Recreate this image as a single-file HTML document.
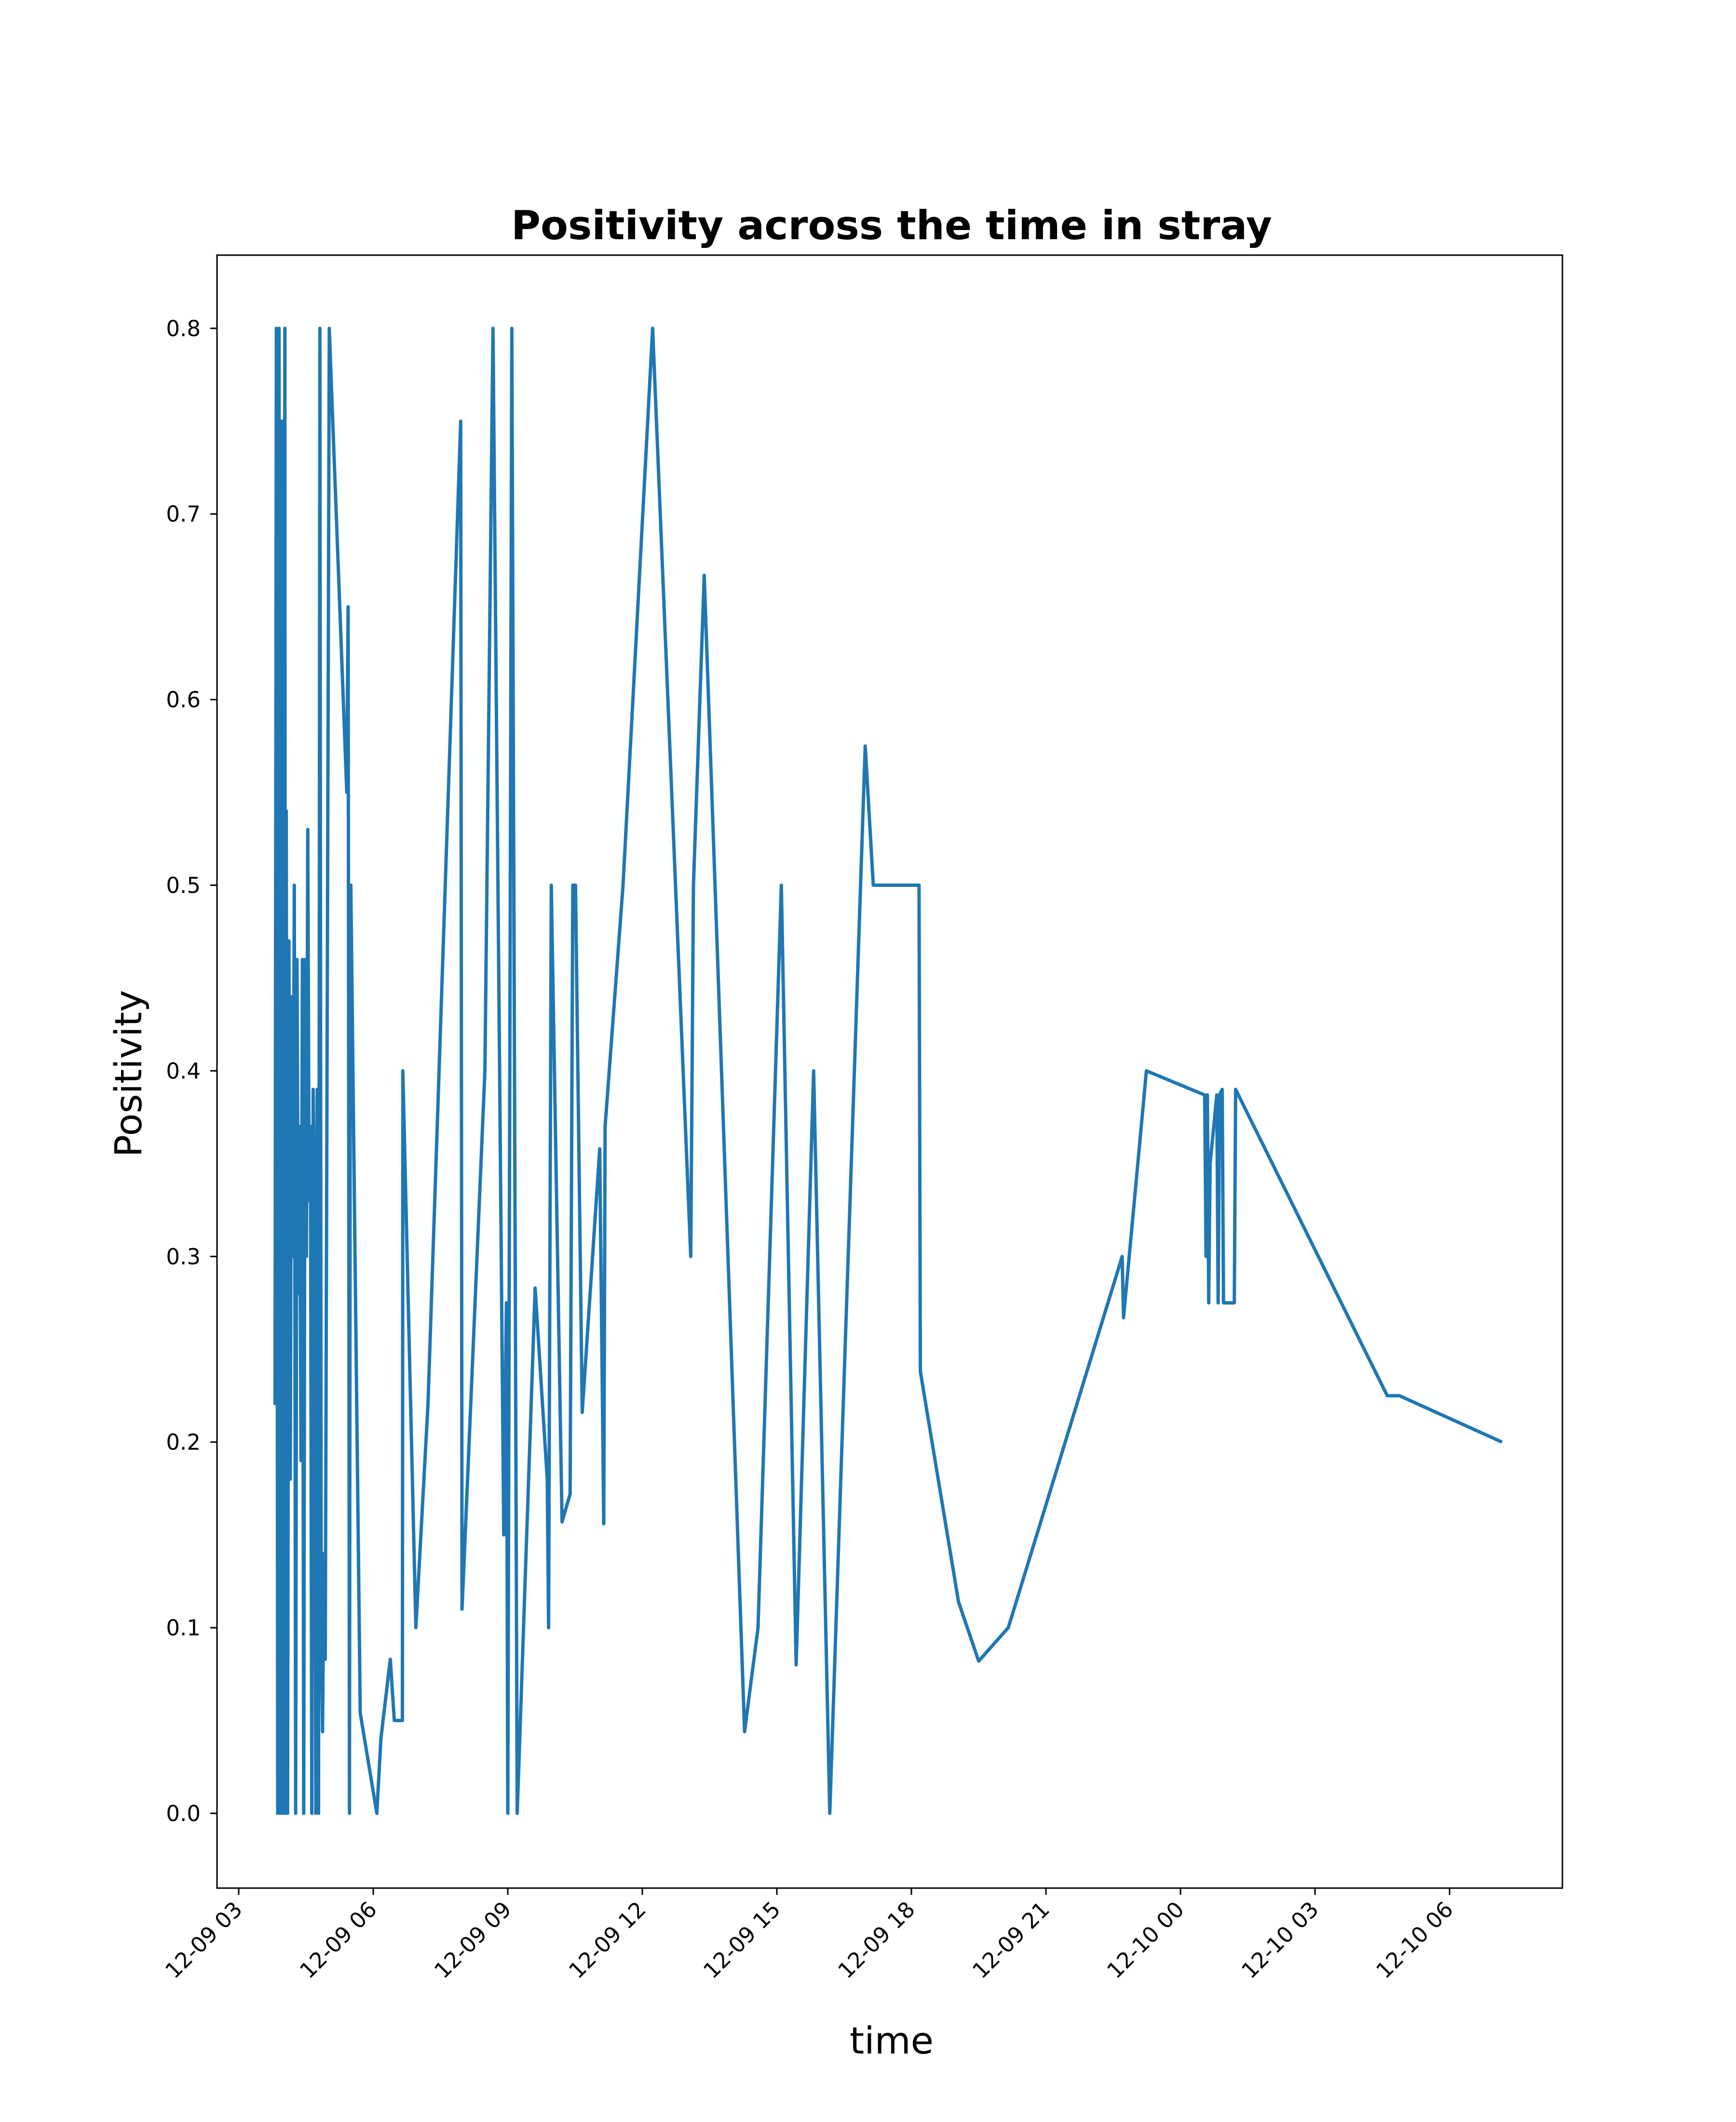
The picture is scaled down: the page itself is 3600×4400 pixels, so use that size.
<!DOCTYPE html>
<html><head><meta charset="utf-8"><style>body{margin:0;background:#fff}svg{display:block}</style></head>
<body>
<svg id="chart" width="3600" height="4400" xmlns="http://www.w3.org/2000/svg" font-family="'DejaVu Sans','Liberation Sans',sans-serif">
<rect width="3600" height="4400" fill="#fff"/>
<text x="1849" y="496" font-size="83" font-weight="bold" text-anchor="middle">Positivity across the time in stray</text>
<g id="plot"></g>
<rect x="450" y="529" width="2790" height="3386" fill="none" stroke="#000" stroke-width="3"/>
<text x="1849" y="4258" font-size="77" text-anchor="middle">time</text>
<text x="0" y="0" font-size="77" text-anchor="middle" transform="translate(293,2226) rotate(-90)">Positivity</text>
</svg>
<script>
const hours=[3.81,3.84,3.87,3.90,3.93,3.96,3.99,4.03,4.04,4.06,4.09,4.12,4.15,4.18,4.21,4.24,4.27,4.30,4.33,4.36,4.39,4.42,4.45,4.48,4.51,4.54,4.57,4.60,4.63,4.66,4.69,4.72,4.75,4.78,4.81,4.84,4.87,4.90,4.93,5.02,5.05,5.41,5.44,5.47,5.49,5.50,5.71,6.08,6.17,6.38,6.47,6.65,6.66,6.95,7.22,7.95,7.98,8.49,8.67,8.91,8.97,9.00,9.09,9.21,9.61,9.88,9.91,9.97,10.21,10.39,10.45,10.51,10.66,11.05,11.14,11.17,11.57,12.23,13.08,13.14,13.38,14.28,14.58,15.10,15.43,15.82,16.18,16.48,16.97,17.15,18.17,18.20,19.05,19.50,20.16,22.70,22.73,23.24,24.54,24.57,24.60,24.63,24.66,24.81,24.84,24.87,24.93,24.96,25.20,25.23,28.61,28.88,31.17];
const positivity=[0.22,0.8,0,0.8,0,0.75,0,0.8,0,0.54,0,0.47,0.18,0.44,0.3,0.5,0,0.46,0.28,0.37,0.19,0.46,0,0.46,0.3,0.53,0.33,0.37,0,0.39,0.33,0,0.39,0,0.8,0.1,0.044,0.14,0.083,0.8,0.78,0.55,0.65,0,0.5,0.5,0.054,0,0.04,0.083,0.05,0.05,0.4,0.1,0.22,0.75,0.11,0.4,0.8,0.15,0.275,0,0.8,0,0.283,0.18,0.1,0.5,0.157,0.172,0.5,0.5,0.216,0.358,0.156,0.37,0.5,0.8,0.3,0.5,0.667,0.044,0.1,0.5,0.08,0.4,0,0.22,0.575,0.5,0.5,0.238,0.114,0.082,0.1,0.3,0.267,0.4,0.387,0.3,0.387,0.275,0.35,0.387,0.275,0.387,0.39,0.275,0.275,0.39,0.225,0.225,0.2];
const xTickHours=[3,6,9,12,15,18,21,24,27,30];
const xTickLabels=["12-09 03","12-09 06","12-09 09","12-09 12","12-09 15","12-09 18","12-09 21","12-10 00","12-10 03","12-10 06"];
const yTicks=[0,0.1,0.2,0.3,0.4,0.5,0.6,0.7,0.8];
const yTickLabels=["0.0","0.1","0.2","0.3","0.4","0.5","0.6","0.7","0.8"];
const NS="http://www.w3.org/2000/svg";
const X=h=>495+(h-3)*93.0;
const Y=v=>3760-v*3849;
const g=document.getElementById('plot');
function mk(t,a){const e=document.createElementNS(NS,t);for(const k in a)e.setAttribute(k,a[k]);g.appendChild(e);return e;}
xTickHours.forEach((h,i)=>{
 const l=mk('line',{x1:X(h),x2:X(h),y1:3915,y2:3929,stroke:'#000','stroke-width':3});
 
 
 const t=mk('text',{x:0,y:0,'font-size':45,'text-anchor':'end',transform:`translate(${X(h)+10},${3962}) rotate(-45)`});
 t.textContent=xTickLabels[i];
 
 
});
yTicks.forEach((v,i)=>{
 const l=mk('line',{x1:436,x2:450,y1:Y(v),y2:Y(v),stroke:'#000','stroke-width':3});
 
 
 const t=mk('text',{x:416,y:Y(v)+16,'font-size':45,'text-anchor':'end'});
 t.textContent=yTickLabels[i];
 
 
});
const p=mk('polyline',{points:hours.map((h,i)=>X(h)+','+Y(positivity[i])).join(' '),fill:'none',stroke:'#1f77b4','stroke-width':7,'stroke-linejoin':'round'});


</script>
</body></html>
